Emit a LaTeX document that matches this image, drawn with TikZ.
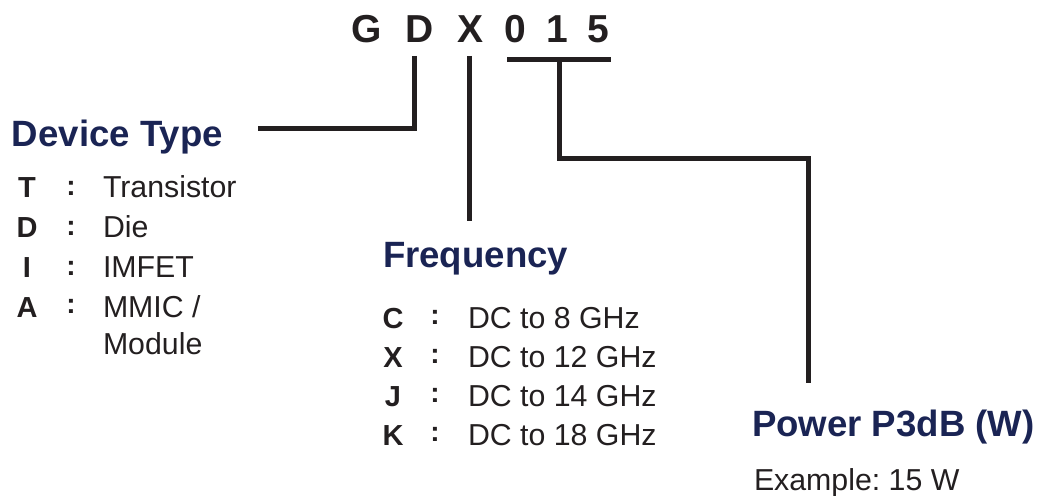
\documentclass[tikz,border=0pt]{standalone}
\usepackage{fontspec}
\setmainfont{Liberation Sans}
\definecolor{ink}{HTML}{231F20}
\definecolor{navy}{HTML}{1A2454}
\frenchspacing
\begin{document}
\begin{tikzpicture}[x=1pt,y=-1pt,
  every node/.style={inner sep=0pt, outer sep=0pt, text=ink},
  code/.style={anchor=base, font=\fontsize{39}{44}\selectfont\bfseries},
  ttl/.style={anchor=base west, text=navy, font=\fontsize{36.6}{41}\selectfont\bfseries},
  key/.style={anchor=base, font=\fontsize{29}{34}\selectfont\bfseries},
  sep/.style={anchor=base, font=\fontsize{28}{34}\selectfont\bfseries},
  desc/.style={anchor=base west, font=\fontsize{30.3}{36}\selectfont},
  conn/.style={draw=ink, line width=5pt, line join=miter}]
\useasboundingbox (0,0) rectangle (1038,495);
% code letters
\node[code] (cG) at (367,43) {G};
\node[code] (cD) at (420,43) {D};
\node[code] (cX) at (470,43) {X};
\node[code] (c0) at (515,43) {0};
\node[code] (c1) at (557,43) {1};
\node[code] (c5) at (598,43) {5};
% titles
\node[ttl] (tDev) at (12,146) {Device Type};
\node[ttl] (tFreq) at (383,267) {Frequency};
\node[ttl] (tPow) at (752,436) {Power P3dB (W)};
% device type list
\node[key] (kT) at (27,197) {T};
\node[sep] (sT) at (71,195) {:};
\node[desc] (dT) at (103,197) {Transistor};
\node[key] (kD) at (27,237) {D};
\node[sep] (sD) at (71,235) {:};
\node[desc] (dD) at (103,237) {Die};
\node[key] (kI) at (27,277) {I};
\node[sep] (sI) at (71,275) {:};
\node[desc] (dI) at (103,277) {IMFET};
\node[key] (kA) at (27,317) {A};
\node[sep] (sA) at (71,313) {:};
\node[desc] (dA) at (103,317) {MMIC /};
\node[desc] (dA2) at (103,354) {Module};
% frequency list
\node[key] (kC) at (393,328) {C};
\node[sep] (sC) at (435,324) {:};
\node[desc] (dC) at (468,328) {DC to 8 GHz};
\node[key] (kX) at (393,367) {X};
\node[sep] (sX) at (435,363) {:};
\node[desc] (dX) at (468,367) {DC to 12 GHz};
\node[key] (kJ) at (393,406) {J};
\node[sep] (sJ) at (435,402) {:};
\node[desc] (dJ) at (468,406) {DC to 14 GHz};
\node[key] (kK) at (393,445) {K};
\node[sep] (sK) at (435,441) {:};
\node[desc] (dK) at (468,445) {DC to 18 GHz};
% power example
\node[desc] (ex) at (754,490) {Example: 15 W};
% connector coordinates
\coordinate (dTop) at (414.5,56);
\coordinate (dCorner) at (414.5,128.5);
\coordinate (dEnd) at (258,128.5);
\coordinate (xTop) at (469.5,56);
\coordinate (xEnd) at (469.5,221);
\coordinate (bL) at (507,60);
\coordinate (bR) at (611,60);
\coordinate (bMid) at (559.5,60);
\coordinate (pC1) at (559.5,158.5);
\coordinate (pC2) at (808.5,158.5);
\coordinate (pEnd) at (808.5,383);
% connectors
\draw[conn] (dTop) -- (dCorner) -- (dEnd);
\draw[conn] (xTop) -- (xEnd);
\draw[conn] (bL) -- (bR);
\draw[conn] (bMid) -- (pC1) -- (pC2) -- (pEnd);
\end{tikzpicture}
\end{document}
